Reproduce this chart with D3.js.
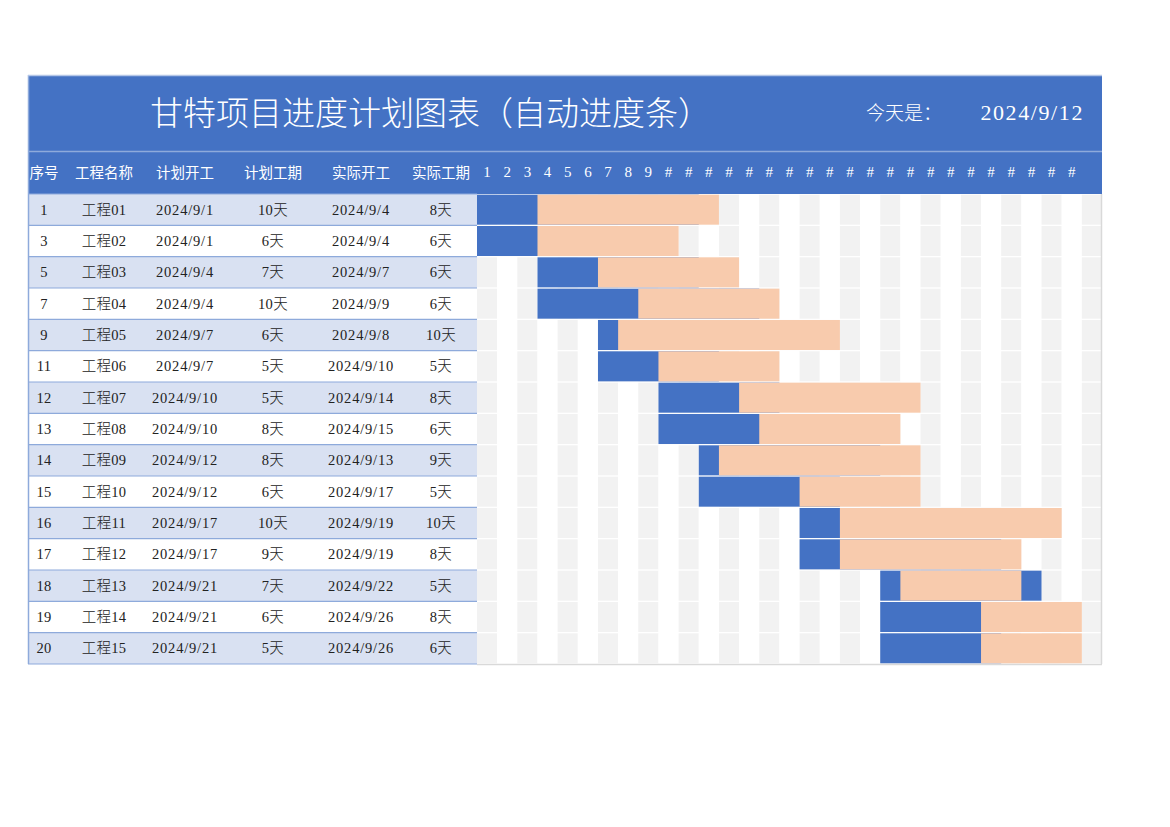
<!DOCTYPE html>
<html>
<head>
  <meta charset="UTF-8">
  <style>
    body { margin: 0; background: #fff; }
    text { font-family: "Liberation Serif", "Noto Sans CJK SC", serif; }
    .cjk { font-family: "Noto Sans CJK SC", sans-serif; }
  </style>
</head>
<body>
<script src="https://d3js.org/d3.v7.min.js"></script>
<div id="my_dataviz"></div>
<script>

// data read from the sheet
var ids = [1, 3, 5, 7, 9, 11, 12, 13, 14, 15, 16, 17, 18, 19, 20];
var names = ["工程01","工程02","工程03","工程04","工程05","工程06","工程07","工程08",
             "工程09","工程10","工程11","工程12","工程13","工程14","工程15"];
var planStart = ["2024/9/1","2024/9/1","2024/9/4","2024/9/4","2024/9/7","2024/9/7","2024/9/10","2024/9/10",
                 "2024/9/12","2024/9/12","2024/9/17","2024/9/17","2024/9/21","2024/9/21","2024/9/21"];
var planDays = [10, 6, 7, 10, 6, 5, 5, 8, 8, 6, 10, 9, 7, 6, 5];
var actualStart = ["2024/9/4","2024/9/4","2024/9/7","2024/9/9","2024/9/8","2024/9/10","2024/9/14","2024/9/15",
                   "2024/9/13","2024/9/17","2024/9/19","2024/9/19","2024/9/22","2024/9/26","2024/9/26"];
var actualDays = [8, 6, 6, 6, 10, 5, 8, 6, 9, 5, 10, 8, 5, 8, 6];
var headers = ["序号", "工程名称", "计划开工", "计划工期", "实际开工", "实际工期"];
var dayLabels = ["1","2","3","4","5","6","7","8","9","#","#","#","#","#","#","#","#","#","#",
                 "#","#","#","#","#","#","#","#","#","#","#"];
var days = d3.range(1, 32);   // 31 grid columns, month has 30
var lastDay = 30;
var today = "2024/9/12";
var title = "甘特项目进度计划图表（自动进度条）";

var W = 1170, H = 827;
var left = 28, right = 1102, ganttLeft = 477;
var titleTop = 75, headTop = 151, rowTop = 194, rowBottom = 664;

var blue = "#4472c4", peach = "#f8cbad", lightBlue = "#d9e1f2", lineBlue = "#8eaadb";

var svg = d3.select("#my_dataviz")
  .append("svg")
  .attr("width", W)
  .attr("height", H);

var rows = ids.map(function(d, i) {
  return {
    id: d, name: names[i],
    ps: planStart[i], pd: planDays[i],
    as: actualStart[i], ad: actualDays[i],
    psDay: +planStart[i].split("/")[2],
    asDay: +actualStart[i].split("/")[2]
  };
});

var y = d3.scaleBand().domain(d3.range(rows.length)).range([rowTop, rowBottom]);
var x = d3.scaleBand().domain(days).range([ganttLeft, right]);

// title band + header band
svg.append("rect").attr("x", left).attr("y", titleTop).attr("width", right - left)
  .attr("height", rowTop - titleTop).attr("fill", blue);
svg.append("line").attr("x1", left).attr("x2", right).attr("y1", headTop + 0.5).attr("y2", headTop + 0.5)
  .attr("stroke", lineBlue).attr("stroke-width", 1.5);

svg.append("text").attr("class", "cjk")
  .attr("x", 150).attr("y", 125)
  .attr("fill", "#fff").style("font-size", "33px").style("font-weight", 300)
  .text(title);
svg.append("text").attr("class", "cjk")
  .attr("x", 866).attr("y", 120)
  .attr("fill", "#fff").style("font-size", "19px").style("font-weight", 300)
  .text("今天是：");
svg.append("text")
  .attr("x", 1084).attr("y", 120).attr("text-anchor", "end")
  .attr("fill", "#fff").style("font-size", "22px").style("letter-spacing", "1.6px")
  .text(today);

// table columns centers
var colX = [44, 104, 185, 273, 361, 441];
svg.selectAll(".head").data(headers).enter().append("text")
  .attr("class", "cjk")
  .attr("x", function(d, i) { return colX[i]; })
  .attr("y", 178)
  .attr("text-anchor", "middle")
  .attr("fill", "#fff").style("font-size", "14.5px")
  .text(function(d) { return d; });

svg.selectAll(".day").data(dayLabels).enter().append("text")
  .attr("x", function(d, i) { return x(days[i]) + x.bandwidth() / 2; })
  .attr("y", 177)
  .attr("text-anchor", "middle")
  .attr("fill", "#fff").style("font-size", "15px")
  .text(function(d) { return d; });

// left table rows
var row = svg.selectAll(".row").data(rows).enter().append("g");
row.append("rect")
  .attr("x", left).attr("y", function(d, i) { return y(i); })
  .attr("width", ganttLeft - left).attr("height", y.bandwidth())
  .attr("fill", function(d, i) { return i % 2 == 0 ? lightBlue : "#fff"; });

var cells = function(d) {
  return [d.id, d.name, d.ps, d.pd + "天", d.as, d.ad + "天"];
};
row.each(function(d, i) {
  d3.select(this).selectAll("text").data(cells(d)).enter().append("text")
    .attr("x", function(t, j) { return colX[j]; })
    .attr("y", y(i) + y.bandwidth() / 2 + 5)
    .attr("text-anchor", "middle")
    .attr("fill", "#222").style("font-size", "14.5px")
    .style("letter-spacing", function(t, j) { return j == 2 || j == 4 ? "0.8px" : "0.3px"; })
    .style("font-weight", 300)
    .text(function(t) { return t; });
});

// row borders of the left table
svg.selectAll(".hline").data(d3.range(rows.length + 1)).enter().append("line")
  .attr("x1", left).attr("x2", ganttLeft)
  .attr("y1", function(i) { return rowTop + i * y.step(); })
  .attr("y2", function(i) { return rowTop + i * y.step(); })
  .attr("stroke", lineBlue).attr("stroke-width", 1.2);
svg.append("line").attr("x1", left + 0.5).attr("x2", left + 0.5).attr("y1", titleTop).attr("y2", rowBottom)
  .attr("stroke", lineBlue).attr("stroke-width", 1.5);

// gantt background stripes
var gap = 1.3;
rows.forEach(function(r, i) {
  svg.append("g").selectAll("rect").data(days).enter().append("rect")
    .attr("x", function(d) { return x(d); })
    .attr("y", y(i) + gap / 2)
    .attr("width", x.bandwidth())
    .attr("height", y.bandwidth() - gap)
    .attr("fill", function(d) { return d % 2 == 1 ? "#f2f2f2" : "#fff"; });
});

// planned span (blue) then actual span (peach) on top
var bars = svg.append("g");
bars.selectAll(".plan").data(rows).enter().append("rect")
  .attr("x", function(d) { return x(d.psDay); })
  .attr("y", function(d, i) { return y(i) + gap / 2; })
  .attr("width", function(d) {
    var end = Math.min(d.psDay + d.pd, lastDay);
    return x(end) + x.bandwidth() - x(d.psDay);
  })
  .attr("height", y.bandwidth() - gap)
  .attr("fill", blue);
bars.selectAll(".act").data(rows).enter().append("rect")
  .attr("x", function(d) { return x(d.asDay); })
  .attr("y", function(d, i) { return y(i) + gap / 2; })
  .attr("width", function(d) {
    var end = Math.min(d.asDay + d.ad, lastDay);
    return x(end) + x.bandwidth() - x(d.asDay);
  })
  .attr("height", y.bandwidth() - gap)
  .attr("fill", peach);

// outer border
svg.append("line").attr("x1", left).attr("x2", right).attr("y1", titleTop + 0.5).attr("y2", titleTop + 0.5)
  .attr("stroke", "#b4c6e7").attr("stroke-width", 1.5);
svg.append("line").attr("x1", right - 0.5).attr("x2", right - 0.5).attr("y1", rowTop).attr("y2", rowBottom)
  .attr("stroke", "#d9d9d9").attr("stroke-width", 1.5);
svg.append("line").attr("x1", ganttLeft).attr("x2", right).attr("y1", rowBottom + 0.5).attr("y2", rowBottom + 0.5)
  .attr("stroke", "#d9d9d9").attr("stroke-width", 1.5);

</script>
</body>
</html>
